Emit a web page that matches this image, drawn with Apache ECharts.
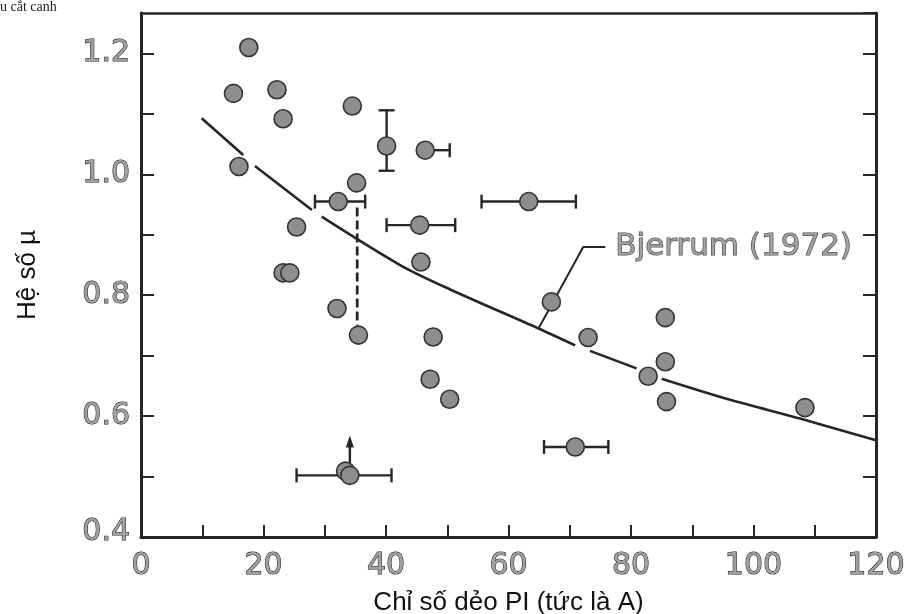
<!DOCTYPE html>
<html><head><meta charset="utf-8">
<script src="https://cdn.jsdelivr.net/npm/echarts@6/dist/echarts.min.js"></script>
<style>html,body{margin:0;padding:0;background:#fff}#c{width:915px;height:614px}</style>
</head><body><div id="c"></div>
<script>
// ---- tick labels ----
const xTickLabels = ['0', '20', '40', '60', '80', '100', '120'];
const yTickLabels = ['0.4', '0.6', '0.8', '1.0', '1.2'];

// ---- plain data points (PI, mu) ----
const soloPI = [17.6, 15.1, 22.2, 23.2, 34.5, 16.0, 35.2, 25.4, 23.2, 24.3, 32.0, 45.7, 35.5, 47.7, 47.2, 50.4, 73.0, 85.6, 85.6, 82.8, 85.8, 108.4, 67.0, 33.4];
const soloMu = [1.210, 1.134, 1.140, 1.092, 1.113, 1.013, 0.986, 0.913, 0.837, 0.837, 0.778, 0.855, 0.734, 0.731, 0.661, 0.628, 0.730, 0.763, 0.690, 0.666, 0.624, 0.614, 0.789, 0.509];

// ---- points with horizontal error bars ----
const hbarPI   = [46.4, 32.2, 45.5, 63.3, 70.9, 34.1];
const hbarMu   = [1.040, 0.955, 0.916, 0.955, 0.549, 0.502];
const hbarLow  = [45.6, 28.4, 40.1, 55.6, 65.8, 25.4];
const hbarHigh = [50.4, 36.6, 51.3, 71.0, 76.3, 40.9];

// ---- points with vertical error bars ----
const vbarPI   = [40.1];
const vbarMu   = [1.047];
const vbarLow  = [1.006];
const vbarHigh = [1.106];

// ---- upward arrow (lower bound) ----
const arrowPI   = [34.1];
const arrowFrom = [0.518];
const arrowTo   = [0.568];

// ---- dashed connector ----
const dashPI   = [35.3];
const dashFrom = [0.945];
const dashTo   = [0.750];

// ---- Bjerrum (1972) curve, null = gap in the drawn line ----
const curvePI = [9.9, 16.7, null, 18.6, 27.9, null, 29.5, 42.3, 50.4, 64.9, 70.9, null, 73.3, 80.9, null, 85.0, 96.2, 107.6, 120];
const curveMu = [1.093, 1.032, null, 1.014, 0.941, null, 0.930, 0.850, 0.810, 0.745, 0.717, null, 0.708, 0.679, null, 0.662, 0.627, 0.596, 0.560];

// ---- annotation leader ----
const leaderPI = [64.9, 72.2, 75.8];
const leaderMu = [0.745, 0.880, 0.880];
const curveName = 'Bjerrum (1972)';

const INK = '#262626';

// split curve into segments
const segments = [];
let cur = [];
curvePI.forEach((x, i) => {
  if (x === null) { if (cur.length) segments.push(cur); cur = []; }
  else cur.push([x, curveMu[i]]);
});
if (cur.length) segments.push(cur);

const markerData = soloPI.map((x, i) => [x, soloMu[i]])
  .concat(hbarPI.map((x, i) => [x, hbarMu[i]]))
  .concat(vbarPI.map((x, i) => [x, vbarMu[i]]));

const lineSeries = segments.map(seg => ({
  type: 'line', data: seg, smooth: 0.3, symbol: 'none', silent: true, z: 2,
  lineStyle: { color: INK, width: 2.6 }
}));

function findLabel(list, v) {
  for (const l of list) if (Math.abs(parseFloat(l) - v) < 1e-6) return l;
  return '';
}

const tickFont = { fontFamily: 'DejaVu Sans', fontSize: 30, color: '#a0a0a0', textBorderColor: '#1e1e1e', textBorderWidth: 1.1 };

const option = {
  animation: false,
  backgroundColor: '#fff',
  grid: { left: 141, right: 39, top: 13, bottom: 77, containLabel: false, outerBoundsMode: 'none' },
  xAxis: [{
    type: 'value', min: 0, max: 120, interval: 10, position: 'bottom',
    axisLine: { show: true, onZero: false, lineStyle: { color: INK, width: 3 } },
    axisTick: { show: true, inside: true, length: 12, lineStyle: { color: INK, width: 2 } },
    splitLine: { show: false },
    axisLabel: Object.assign({ margin: 14, formatter: v => findLabel(xTickLabels, v) }, tickFont),
    name: 'Chỉ số dẻo PI (tức là A)', nameLocation: 'middle', nameGap: 53,
    nameTextStyle: { fontFamily: 'Liberation Sans', fontSize: 26, color: '#111' }
  }, {
    type: 'value', min: 0, max: 120, position: 'top',
    axisLine: { show: true, onZero: false, lineStyle: { color: INK, width: 2.5 } },
    axisTick: { show: false }, axisLabel: { show: false }, splitLine: { show: false }
  }],
  yAxis: [{
    type: 'value', min: 0.4, max: 1.267, interval: 0.1, position: 'left',
    axisLine: { show: true, onZero: false, lineStyle: { color: INK, width: 3 } },
    axisTick: { show: true, inside: true, length: 13, lineStyle: { color: INK, width: 2 } },
    splitLine: { show: false },
    axisLabel: Object.assign({
      margin: 11, showMaxLabel: false,
      formatter: v => { const l = findLabel(yTickLabels, v); return l === yTickLabels[0] ? '{lo|' + l + '}' : l; },
      rich: { lo: Object.assign({ padding: [0, 0, 9, 0] }, tickFont) }
    }, tickFont),
    name: 'Hệ số µ', nameLocation: 'middle', nameRotate: 90, nameGap: 100,
    nameTextStyle: { fontFamily: 'Liberation Sans', fontSize: 26, color: '#111' }
  }, {
    type: 'value', min: 0.4, max: 1.267, interval: 0.1, position: 'right',
    axisLine: { show: true, onZero: false, lineStyle: { color: INK, width: 3 } },
    axisTick: { show: true, inside: true, length: 13, lineStyle: { color: INK, width: 2 } },
    axisLabel: { show: false }, splitLine: { show: false }
  }],
  graphic: [{
    type: 'text', left: 0, top: 0, silent: true,
    style: { text: 'u cắt canh', font: '14px "Liberation Serif"', fill: '#222' }
  }],
  series: lineSeries.concat([
    {
      type: 'line', data: leaderPI.map((x, i) => [x, leaderMu[i]]), symbol: 'none', silent: true, z: 2,
      lineStyle: { color: INK, width: 2 }
    },
    {
      type: 'scatter', data: [[leaderPI[leaderPI.length - 1], leaderMu[leaderMu.length - 1]]],
      symbolSize: 0, silent: true, z: 5,
      label: {
        show: true, position: 'right', distance: 10, formatter: curveName,
        fontFamily: 'DejaVu Sans', fontSize: 31, color: '#909090', textBorderColor: '#1e1e1e', textBorderWidth: 1.1
      }
    },
    {
      type: 'custom', silent: true, z: 3,
      data: hbarPI.map((x, i) => [x, hbarMu[i], hbarLow[i], hbarHigh[i]]),
      renderItem: (params, api) => {
        const y = api.value(1);
        const a = api.coord([api.value(2), y]), b = api.coord([api.value(3), y]);
        const st = { stroke: INK, lineWidth: 2.4 };
        return { type: 'group', children: [
          { type: 'line', shape: { x1: a[0], y1: a[1], x2: b[0], y2: b[1] }, style: st },
          { type: 'line', shape: { x1: a[0], y1: a[1] - 7, x2: a[0], y2: a[1] + 7 }, style: st },
          { type: 'line', shape: { x1: b[0], y1: b[1] - 7, x2: b[0], y2: b[1] + 7 }, style: st }
        ] };
      }
    },
    {
      type: 'custom', silent: true, z: 3,
      data: vbarPI.map((x, i) => [x, vbarMu[i], vbarLow[i], vbarHigh[i]]),
      renderItem: (params, api) => {
        const x = api.value(0);
        const a = api.coord([x, api.value(2)]), b = api.coord([x, api.value(3)]);
        const st = { stroke: INK, lineWidth: 2.4 };
        return { type: 'group', children: [
          { type: 'line', shape: { x1: a[0], y1: a[1], x2: b[0], y2: b[1] }, style: st },
          { type: 'line', shape: { x1: a[0] - 8, y1: a[1], x2: a[0] + 8, y2: a[1] }, style: st },
          { type: 'line', shape: { x1: b[0] - 8, y1: b[1], x2: b[0] + 8, y2: b[1] }, style: st }
        ] };
      }
    },
    {
      type: 'custom', silent: true, z: 3,
      data: dashPI.map((x, i) => [x, dashFrom[i], dashTo[i]]),
      renderItem: (params, api) => {
        const x = api.value(0);
        const a = api.coord([x, api.value(1)]), b = api.coord([x, api.value(2)]);
        return { type: 'line', shape: { x1: a[0], y1: a[1], x2: b[0], y2: b[1] },
          style: { stroke: INK, lineWidth: 2.8, lineDash: [9, 4] } };
      }
    },
    {
      type: 'custom', silent: true, z: 3,
      data: arrowPI.map((x, i) => [x, arrowFrom[i], arrowTo[i]]),
      renderItem: (params, api) => {
        const x = api.value(0);
        const a = api.coord([x, api.value(1)]), b = api.coord([x, api.value(2)]);
        return { type: 'group', children: [
          { type: 'line', shape: { x1: a[0], y1: a[1], x2: b[0], y2: b[1] + 6 }, style: { stroke: INK, lineWidth: 2.4 } },
          { type: 'polygon', shape: { points: [[b[0], b[1]], [b[0] - 4, b[1] + 12], [b[0] + 4, b[1] + 12]] }, style: { fill: INK } }
        ] };
      }
    },
    {
      type: 'scatter', data: markerData, symbol: 'circle', symbolSize: 18, silent: true, z: 4,
      itemStyle: { color: '#8e8e8e', borderColor: '#333', borderWidth: 1.6, opacity: 1 }
    }
  ])
};

const chart = echarts.init(document.getElementById('c'), null, { renderer: 'canvas' });
chart.setOption(option);
</script>
</body></html>
